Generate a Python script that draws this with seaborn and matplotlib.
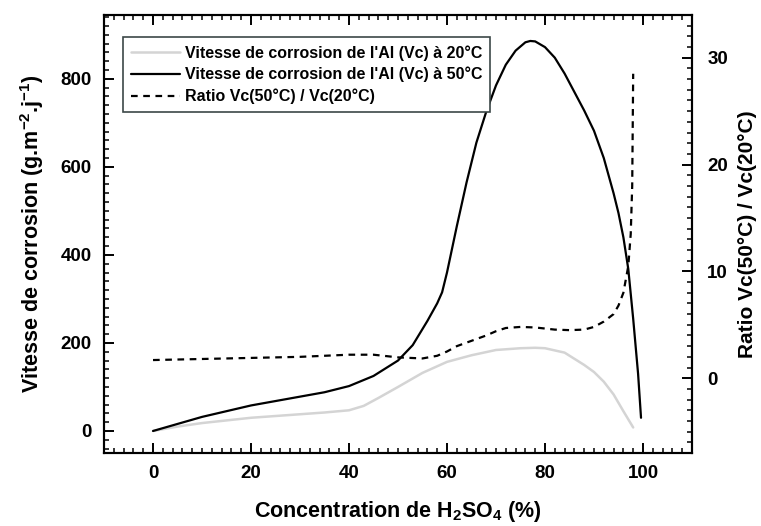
import matplotlib
matplotlib.use("Agg")
import matplotlib.pyplot as plt
import seaborn as sns
from matplotlib.ticker import MultipleLocator

# Vitesse de corrosion à 20°C (g.m-2.j-1)
x_20 = [0, 5, 10, 15, 20, 25, 30, 35, 40, 43, 46, 50, 55, 60, 65, 70, 75, 78, 80, 84, 88, 90, 92, 94, 96, 98]
vc_20 = [0, 10, 18, 24, 30, 34, 38, 42, 47, 57, 75, 100, 132, 157, 172, 184, 188, 189, 188, 178, 150, 134, 112, 83, 45, 8]

# Vitesse de corrosion à 50°C
x_50 = [0, 5, 10, 15, 20, 25, 30, 35, 40, 45, 50, 53, 56, 58, 59, 60, 62, 64, 66, 68, 70, 72, 74, 76, 77, 78,
        80, 82, 84, 86, 88, 90, 92, 94, 95, 96, 97, 98, 99, 99.6]
vc_50 = [0, 16, 32, 45, 58, 68, 78, 88, 102, 125, 160, 195, 250, 290, 315, 360, 465, 565, 655, 725, 785, 832,
         864, 883, 886, 885, 872, 848, 812, 770, 728, 682, 620, 540, 495, 440, 368, 255, 130, 30]

# Ratio Vc(50°C)/Vc(20°C)
x_ratio = [0, 10, 20, 30, 40, 45, 50, 55, 58, 60, 62, 65, 68, 70, 72, 75, 78, 82, 85, 88, 90, 92, 94, 95, 96,
           97, 97.5, 97.8, 98]
ratio = [1.7, 1.8, 1.9, 2.0, 2.2, 2.2, 1.95, 1.85, 2.1, 2.5, 3.0, 3.5, 4.0, 4.4, 4.7, 4.8, 4.75, 4.55, 4.5,
         4.55, 4.8, 5.3, 6.0, 6.8, 8.0, 10.5, 13.5, 18.0, 28.5]

sns.set_theme(style="ticks")
plt.rcParams["font.family"] = ["Liberation Sans", "DejaVu Sans"]
plt.rcParams["font.weight"] = "bold"
plt.rcParams["text.color"] = "black"
plt.rcParams["axes.labelcolor"] = "black"
plt.rcParams["xtick.color"] = "black"
plt.rcParams["ytick.color"] = "black"
plt.rcParams["mathtext.fontset"] = "custom"
plt.rcParams["mathtext.rm"] = "Liberation Sans:bold"
plt.rcParams["mathtext.bf"] = "Liberation Sans:bold"
plt.rcParams["mathtext.default"] = "bf"

fig = plt.figure(figsize=(7.61, 5.26), dpi=100)
ax = fig.add_axes([0.1367, 0.1388, 0.7726, 0.8327])
ax2 = ax.twinx()

sns.lineplot(x=x_20, y=vc_20, ax=ax, color="#d4d4d4", linewidth=1.8,
             label="Vitesse de corrosion de l'Al (Vc) à 20°C", legend=False)
sns.lineplot(x=x_50, y=vc_50, ax=ax, color="black", linewidth=1.6,
             label="Vitesse de corrosion de l'Al (Vc) à 50°C", legend=False)
sns.lineplot(x=x_ratio, y=ratio, ax=ax2, color="black", linewidth=1.6, linestyle=(0, (3, 2.5)),
             label="Ratio Vc(50°C) / Vc(20°C)", legend=False)

ax.set_xlim(-10, 110)
ax.set_ylim(-50, 945)
ax2.set_ylim(-7, 34)

ax.xaxis.set_major_locator(MultipleLocator(20))
ax.xaxis.set_minor_locator(MultipleLocator(2))
ax.yaxis.set_major_locator(MultipleLocator(200))
ax.yaxis.set_minor_locator(MultipleLocator(20))
ax2.yaxis.set_major_locator(MultipleLocator(10))
ax2.yaxis.set_minor_locator(MultipleLocator(1))

ax.tick_params(axis="x", which="both", direction="in", top=True, bottom=True, labelsize=13.5, pad=9)
ax.tick_params(axis="y", which="both", direction="in", left=True, right=False, labelsize=13.5, pad=9)
ax2.tick_params(axis="y", which="both", direction="in", right=True, labelsize=13.5, pad=11)
for a in (ax, ax2):
    a.tick_params(which="major", length=7, width=1.4, color="black")
    a.tick_params(which="minor", length=3.5, width=1.1, color="black")
    for s in a.spines.values():
        s.set_linewidth(1.5)
        s.set_color("black")
    for lab in a.get_xticklabels() + a.get_yticklabels():
        lab.set_fontweight("bold")

ax.set_xlabel("Concentration de H$_2$SO$_4$ (%)", fontsize=15.5, fontweight="bold", labelpad=12)
ax.set_ylabel("Vitesse de corrosion (g.m$^{-2}$.j$^{-1}$)", fontsize=15.5, fontweight="bold", labelpad=10)
ax2.set_ylabel("Ratio Vc(50°C) / Vc(20°C)", fontsize=15, fontweight="bold", labelpad=7)

h1, l1 = ax.get_legend_handles_labels()
h2, l2 = ax2.get_legend_handles_labels()
leg = ax2.legend(h1 + h2, l1 + l2, loc="upper left", bbox_to_anchor=(0.018, 0.968),
                 fontsize=11.5, handlelength=3.1, handletextpad=0.3, labelspacing=0.4,
                 fancybox=False, framealpha=1, edgecolor="#3c4848", borderpad=0.5)
leg.get_frame().set_linewidth(1.2)
for t in leg.get_texts():
    t.set_fontweight("bold")

fig.savefig("out.png", dpi=100)
